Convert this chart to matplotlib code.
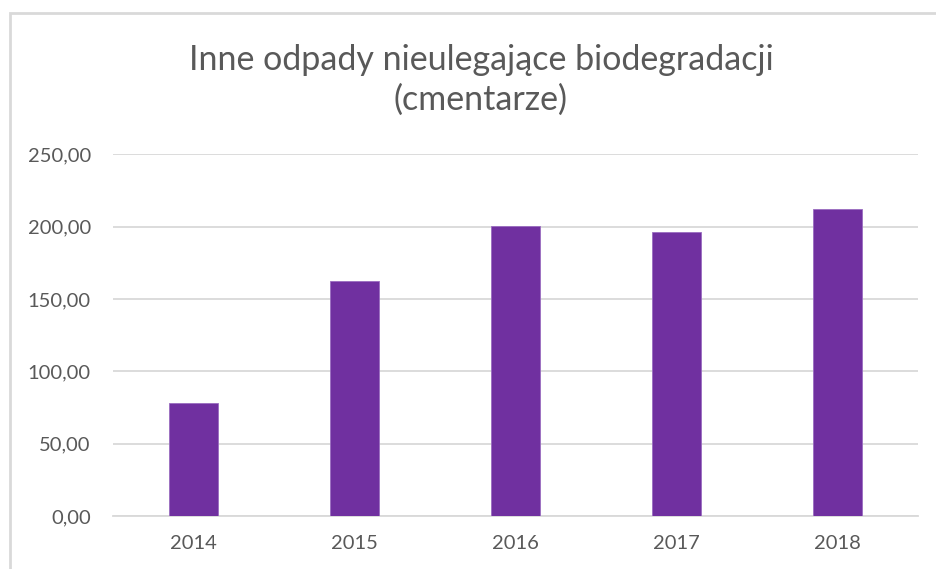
import numpy as np
import matplotlib
matplotlib.use("Agg")
import matplotlib.pyplot as plt
from matplotlib.patches import Rectangle
from matplotlib.ticker import FuncFormatter

# data
years = ["2014", "2015", "2016", "2017", "2018"]
values = [78.0, 162.2, 200.3, 196.0, 212.4]
yticks = [0, 50, 100, 150, 200, 250]

plt.rcParams['font.family'] = ['Lato', 'DejaVu Sans']

fig = plt.figure(figsize=(9.36, 5.69), dpi=100)
fig.patch.set_facecolor('white')

# chart border (cut off at right and bottom like in the screenshot)
fig.patches.append(Rectangle((9.5 / 936, -0.05), 1.2, 1 - 13 / 569 + 0.05,
                             transform=fig.transFigure, fill=False,
                             edgecolor='#d9d9d9', lw=2, zorder=0))

ax = fig.add_axes([113 / 936, 1 - 516 / 569, 805 / 936, (516 - 154.3) / 569])
x = np.arange(len(years))
ax.bar(x, values, width=0.31, color='#7030A0', edgecolor='#9a6cc0',
       linewidth=0.6, zorder=3)

ax.set_xlim(-0.5, len(years) - 0.5)
ax.set_ylim(0, 250)
ax.set_xticks(x)
ax.set_xticklabels(years)
ax.set_yticks(yticks)
ax.yaxis.set_major_formatter(FuncFormatter(lambda v, p: ('%.2f' % v).replace('.', ',')))
ax.grid(axis='y', color='#d9d9d9', lw=1.3, zorder=0)
for s in ['top', 'right', 'left']:
    ax.spines[s].set_visible(False)
ax.spines['bottom'].set_color('#d9d9d9')
ax.spines['bottom'].set_linewidth(1.3)
ax.tick_params(axis='both', length=0, labelsize=14.5, labelcolor='#595959')
ax.tick_params(axis='y', pad=16)
ax.tick_params(axis='x', pad=14)

fig.text(481 / 936, 1 - 80 / 569, "Inne odpady nieulegające biodegradacji\n(cmentarze)",
         ha='center', va='center', fontsize=24.5, color='#595959', linespacing=1.3)

fig.savefig('out.png', dpi=100, facecolor='white')
